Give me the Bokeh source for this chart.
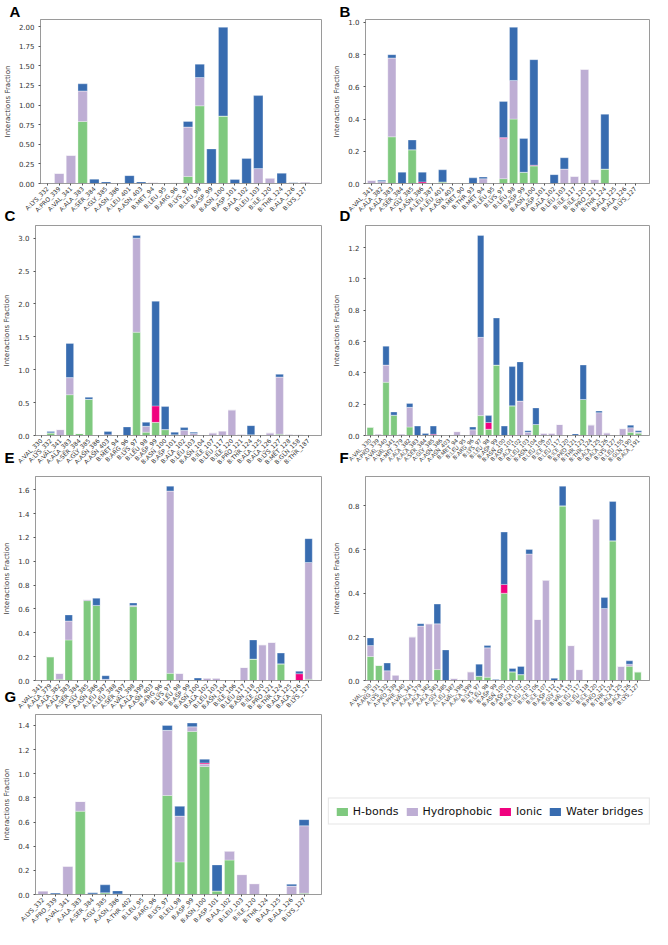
import numpy as np
from bokeh.plotting import figure
from bokeh.models import (ColumnDataSource, Range1d, FixedTicker, SingleIntervalTicker,
                          NumeralTickFormatter, Legend, LegendItem)
from bokeh.layouts import row, column
from bokeh.embed import file_html
from bokeh.resources import INLINE

SERIES = ["H-bonds", "Hydrophobic", "Ionic", "Water bridges"]
COLORS = ["#7fc97f", "#beaed4", "#f0027f", "#386cb0"]

# ---------------- Panel A ----------------
A_labels = ["A:LYS_332", "A:PRO_339", "A:VAL_341", "A:ALA_383", "A:SER_384", "A:GLY_385",
            "A:ASN_386", "A:LEU_401", "A:ASN_403", "B:MET_94", "B:LEU_95", "B:ARG_96",
            "B:LYS_97", "B:LEU_98", "B:ASP_99", "B:ASN_100", "B:ASP_101", "B:ALA_102",
            "B:LEU_103", "B:ILE_120", "B:THR_124", "B:ALA_126", "B:LYS_127"]
A_hbonds = [0, 0, 0, 0.79, 0, 0, 0, 0, 0, 0, 0, 0, 0.09, 0.99, 0, 0.86, 0, 0, 0, 0, 0, 0, 0]
A_hydrophobic = [0, 0.13, 0.36, 0.39, 0, 0, 0, 0, 0, 0.015, 0, 0.01, 0.63, 0.36, 0, 0, 0, 0, 0.19, 0.07, 0, 0, 0.02]
A_ionic = [0] * 23
A_water = [0, 0, 0, 0.09, 0.055, 0.02, 0, 0.10, 0.02, 0, 0, 0, 0.07, 0.17, 0.44, 1.13, 0.05, 0.32, 0.93, 0, 0.13, 0.01, 0]

# ---------------- Panel B ----------------
B_labels = ["A:VAL_341", "A:ALA_382", "A:ALA_383", "A:SER_384", "A:GLY_385", "A:ASN_386",
            "A:LEU_387", "A:LEU_401", "A:ASN_403", "B:MET_90", "B:THR_93", "B:MET_94",
            "B:LEU_95", "B:LYS_97", "B:LEU_98", "B:ASP_99", "B:ASN_100", "B:ASP_101",
            "B:ALA_102", "B:LEU_103", "B:ILE_117", "B:ILE_120", "B:PRO_121", "B:THR_124",
            "B:ALA_125", "B:ALA_126", "B:LYS_127"]
B_hbonds = [0, 0, 0.29, 0, 0.21, 0, 0, 0.01, 0, 0, 0, 0, 0, 0.03, 0.40, 0.07, 0.11, 0, 0, 0, 0, 0, 0, 0.09, 0, 0, 0]
B_hydrophobic = [0.02, 0.012, 0.49, 0, 0, 0, 0, 0, 0, 0, 0, 0.03, 0, 0.25, 0.24, 0, 0, 0, 0, 0.09, 0.045, 0.71, 0.025, 0, 0, 0, 0]
B_ionic = [0, 0, 0, 0, 0, 0.01, 0, 0, 0, 0, 0, 0, 0, 0.005, 0, 0, 0.004, 0, 0, 0, 0, 0, 0, 0, 0, 0, 0]
B_water = [0, 0.008, 0.02, 0.07, 0.06, 0.06, 0, 0.075, 0, 0, 0.035, 0.01, 0, 0.225, 0.33, 0.21, 0.655, 0.003, 0.055, 0.07, 0, 0, 0, 0.34, 0, 0.003, 0.003]

# ---------------- Panel C ----------------
C_labels = ["A:VAL_330", "A:LYS_332", "A:VAL_341", "A:ALA_383", "A:SER_384", "A:GLY_385",
            "A:ASN_386", "A:ASN_403", "B:MET_94", "B:ARG_96", "B:LYS_97", "B:LEU_98",
            "B:ASP_99", "B:ASN_100", "B:ASP_101", "B:ALA_102", "B:LEU_103", "B:ASN_104",
            "B:ILE_107", "B:LEU_117", "B:ILE_120", "B:PRO_121", "B:THR_124", "B:ALA_125",
            "B:ALA_126", "B:LYS_127", "B:MET_128", "B:GLN_158", "B:THR_187"]
C_hbonds = [0, 0.04, 0, 0.62, 0.03, 0.55, 0, 0, 0, 0, 1.57, 0.05, 0.20, 0.09, 0.01, 0, 0, 0, 0, 0, 0, 0, 0.01, 0, 0, 0.02, 0, 0, 0]
C_hydrophobic = [0, 0, 0.09, 0.26, 0, 0, 0, 0, 0, 0, 1.43, 0.09, 0, 0, 0, 0.08, 0.03, 0, 0.04, 0.07, 0.39, 0.02, 0, 0, 0.04, 0.87, 0.02, 0.01, 0]
C_ionic = [0, 0, 0, 0, 0, 0, 0, 0.01, 0, 0, 0, 0, 0.25, 0, 0, 0, 0, 0, 0, 0, 0, 0, 0, 0, 0, 0, 0, 0, 0]
C_water = [0, 0.02, 0, 0.52, 0, 0.03, 0, 0.05, 0, 0.13, 0.04, 0.06, 1.59, 0.35, 0.04, 0.04, 0.02, 0, 0, 0, 0, 0, 0.14, 0, 0, 0.04, 0, 0, 0]

# ---------------- Panel D ----------------
D_labels = ["A:VAL_330", "A:PRO_339", "A:VAL_340", "A:VAL_341", "A:MET_379", "A:ALA_382",
            "A:ALA_383", "A:SER_384", "A:GLY_385", "A:ASN_386", "A:ASN_403", "B:MET_94",
            "B:LEU_95", "B:ARG_96", "B:LYS_97", "B:LEU_98", "B:ASP_99", "B:ASN_100",
            "B:ASP_101", "B:ALA_102", "B:LEU_103", "B:ASN_104", "B:LEU_106", "B:ILE_107",
            "B:LEU_117", "B:ILE_120", "B:PRO_121", "B:THR_123", "B:THR_124", "B:ALA_125",
            "B:ALA_126", "B:LYS_127", "B:LEU_155", "B:GLN_190", "B:ALA_191"]
D_hbonds = [0.054, 0, 0.34, 0.13, 0, 0.054, 0, 0, 0, 0, 0, 0, 0, 0, 0.127, 0.04, 0.45, 0, 0.19, 0, 0, 0.07,
            0, 0, 0, 0, 0, 0.23, 0, 0, 0, 0, 0, 0.02, 0.015]
D_hydrophobic = [0, 0.01, 0.11, 0, 0.01, 0.126, 0, 0, 0, 0, 0, 0.025, 0, 0.037, 0.50, 0, 0, 0, 0, 0.22, 0.02, 0,
                 0.015, 0.015, 0.07, 0, 0, 0, 0.068, 0.146, 0.017, 0, 0.044, 0.03, 0.005]
D_ionic = [0, 0, 0, 0, 0, 0, 0, 0, 0.008, 0, 0, 0, 0, 0, 0, 0.043, 0, 0, 0, 0, 0, 0,
           0, 0, 0, 0, 0, 0, 0, 0, 0, 0, 0, 0, 0]
D_water = [0, 0, 0.12, 0.02, 0, 0.025, 0.06, 0.012, 0.052, 0, 0, 0, 0, 0.017, 0.65, 0.044, 0.30, 0.06, 0.25, 0.25, 0.01, 0.106,
           0, 0, 0, 0, 0.01, 0.22, 0, 0.01, 0, 0, 0, 0.016, 0.01]

# ---------------- Panel E ----------------
E_labels = ["A:VAL_341", "A:ALA_379", "A:ALA_382", "A:ALA_383", "A:SER_384", "A:GLY_385",
            "A:ASN_386", "A:LEU_387", "A:LEU_388", "A:SER_397", "A:VAL_398", "A:ALA_399",
            "A:ASN_403", "B:ARG_96", "B:LYS_97", "B:LEU_98", "B:ASP_99", "B:ASN_100",
            "B:ALA_102", "B:LEU_103", "B:ASN_104", "B:ILE_106", "B:LEU_117", "B:ASN_118",
            "B:ILE_120", "B:PRO_121", "B:THR_124", "B:ALA_125", "B:ALA_126", "B:LYS_127"]
E_hbonds = [0, 0.20, 0.01, 0.34, 0, 0.67, 0.63, 0, 0, 0, 0.62, 0, 0, 0, 0.06, 0, 0.005, 0, 0, 0, 0, 0,
            0, 0.18, 0, 0, 0.14, 0, 0, 0.01]
E_hydrophobic = [0, 0, 0.05, 0.16, 0, 0.01, 0, 0.01, 0, 0, 0.01, 0, 0, 0, 1.53, 0.06, 0, 0, 0.02, 0.02, 0, 0,
                 0.11, 0, 0.30, 0.32, 0, 0, 0, 0.98]
E_ionic = [0] * 28 + [0.057, 0]
E_water = [0, 0, 0, 0.05, 0, 0, 0.06, 0.03, 0.005, 0.005, 0.02, 0, 0, 0, 0.04, 0, 0, 0.02, 0, 0, 0, 0,
           0, 0.16, 0, 0, 0.09, 0, 0.02, 0.20]

# ---------------- Panel F ----------------
F_labels = ["A:VAL_330", "A:ARG_331", "A:LYS_332", "A:PRO_339", "A:PHE_340", "A:VAL_341",
            "A:ALA_379", "A:ALA_382", "A:ALA_383", "A:GLY_385", "A:LEU_387", "A:VAL_398",
            "A:ALA_399", "B:LYS_97", "B:LEU_98", "B:ASP_99", "B:ASN_100", "B:ASP_101",
            "B:ALA_102", "B:LEU_103", "B:ILE_106", "B:ILE_107", "B:ASP_112", "B:GLY_114",
            "B:VAL_115", "B:LEU_117", "B:LEU_118", "B:ILE_120", "B:PRO_121", "B:THR_124",
            "B:ALA_125", "B:ALA_126", "B:LYS_127"]
F_hbonds = [0.11, 0.07, 0, 0, 0, 0, 0, 0, 0.05, 0, 0, 0, 0, 0.02, 0.015, 0, 0.40, 0.04, 0.027, 0, 0, 0,
            0, 0.80, 0, 0, 0, 0, 0, 0.64, 0, 0.065, 0.04]
F_hydrophobic = [0.05, 0, 0.045, 0.025, 0.004, 0.20, 0.25, 0.26, 0.21, 0, 0.01, 0.005, 0.04, 0, 0.135, 0, 0, 0, 0, 0.58, 0.28, 0.46,
                 0, 0, 0.16, 0.05, 0, 0.74, 0.33, 0, 0.065, 0.01, 0]
F_ionic = [0] * 16 + [0.04] + [0] * 16
F_water = [0.035, 0, 0.035, 0, 0, 0, 0.01, 0, 0.09, 0.14, 0, 0, 0, 0.055, 0.01, 0.005, 0.24, 0.015, 0.037, 0.02, 0, 0,
           0.01, 0.09, 0, 0, 0, 0, 0.05, 0.18, 0, 0.015, 0]

# ---------------- Panel G ----------------
G_labels = ["A:LYS_332", "A:PRO_339", "A:VAL_341", "A:ALA_383", "A:SER_384", "A:GLY_385",
            "A:ASN_386", "A:THR_402", "B:LEU_95", "B:ARG_96", "B:LYS_97", "B:LEU_98",
            "B:ASP_99", "B:ASN_100", "B:ASP_101", "B:ALA_102", "B:LEU_103", "B:ILE_120",
            "B:THR_124", "B:ALA_125", "B:ALA_126", "B:LYS_127"]
G_hbonds = [0, 0, 0, 0.69, 0.005, 0.015, 0.005, 0, 0, 0, 0.82, 0.27, 1.35, 1.06, 0.03, 0.285, 0, 0, 0, 0, 0, 0.01]
G_hydrophobic = [0.03, 0.005, 0.235, 0.08, 0, 0, 0, 0, 0, 0, 0.54, 0.38, 0.04, 0.02, 0, 0.075, 0.165, 0.09, 0, 0, 0.07, 0.56]
G_ionic = [0] * 13 + [0.01] + [0] * 8
G_water = [0, 0.008, 0, 0, 0.01, 0.065, 0.025, 0, 0, 0, 0.04, 0.08, 0.03, 0.03, 0.215, 0, 0, 0, 0.005, 0, 0.015, 0.05]

FONT = "DejaVu Sans"
GREY = "#9a9a9a"


def panel(letter, labels, hb, hp, io, wb, step, fmt, width, height,
          bl, br, bt, bb, title_off, title_gap, lab_size):
    n = len(labels)
    xs = list(range(n))
    src = ColumnDataSource(dict(x=xs, hb=hb, hp=hp, io=io, wb=wb))
    totals = np.array(hb) + np.array(hp) + np.array(io) + np.array(wb)
    top = float(totals.max()) * 1.05
    p = figure(width=width, height=height, x_range=Range1d(-0.6, n + 0.4),
               y_range=Range1d(0, top), output_backend="svg", toolbar_location=None,
               min_border_left=bl, min_border_right=br, min_border_top=bt,
               min_border_bottom=bb)
    p.border_fill_color = None
    p.vbar_stack(["hb", "hp", "io", "wb"], x="x", width=0.8, source=src,
                 fill_color=COLORS, line_color="white", line_width=0.6, line_alpha=0.5)
    p.xgrid.visible = False
    p.ygrid.visible = False
    p.outline_line_color = GREY
    p.outline_line_width = 1
    xa = p.xaxis[0]
    xa.axis_label = None
    xa.ticker = FixedTicker(ticks=xs)
    xa.major_label_overrides = {i: lab for i, lab in enumerate(labels)}
    xa.major_label_orientation = np.pi / 4
    xa.major_label_text_font_size = lab_size
    xa.major_label_text_font = FONT
    xa.major_label_text_color = "#333333"
    xa.major_label_standoff = 2
    ya = p.yaxis[0]
    ya.ticker = SingleIntervalTicker(interval=step)
    ya.formatter = NumeralTickFormatter(format=fmt)
    ya.major_label_text_font_size = "7px"
    ya.major_label_text_font = FONT
    ya.major_label_text_color = "#333333"
    ya.major_label_standoff = 2
    ya.axis_label = "Interactions Fraction"
    ya.axis_label_text_font_size = "7px"
    ya.axis_label_text_font = FONT
    ya.axis_label_text_font_style = "normal"
    ya.axis_label_text_color = "#333333"
    ya.axis_label_standoff = 4
    for ax in (xa, ya):
        ax.axis_line_color = GREY
        ax.major_tick_line_color = "#555555"
        ax.major_tick_out = 2
        ax.major_tick_in = 0
        ax.minor_tick_line_color = None
    p.title.text = letter
    p.title.text_font = "Liberation Sans"
    p.title.text_font_size = "15px"
    p.title.text_font_style = "bold"
    p.title.text_color = "#000000"
    p.title.align = "left"
    p.title.offset = title_off
    p.title.standoff = title_gap
    return p


W = 326
BB = 46   # space kept below each frame for the slanted residue names
pA = panel("A", A_labels, A_hbonds, A_hydrophobic, A_ionic, A_water, 0.25, "0.00",
           W, 229, 32, 5, 14, BB, -31, 0, "6px")
pB = panel("B", B_labels, B_hbonds, B_hydrophobic, B_ionic, B_water, 0.2, "0.0",
           W, 229, 39, 3, 14, BB, -26, 0, "6px")
pC = panel("C", C_labels, C_hbonds, C_hydrophobic, C_ionic, C_water, 0.5, "0.0",
           W, 294, 32, 5, 38, BB, -31, 3, "6px")
pD = panel("D", D_labels, D_hbonds, D_hydrophobic, D_ionic, D_water, 0.2, "0.0",
           W, 294, 39, 3, 38, BB, -26, 3, "5.5px")
pE = panel("E", E_labels, E_hbonds, E_hydrophobic, E_ionic, E_water, 0.2, "0.0",
           W, 294, 32, 5, 44, BB, -31, 22, "6px")
pF = panel("F", F_labels, F_hbonds, F_hydrophobic, F_ionic, F_water, 0.2, "0.0",
           W, 294, 39, 3, 44, BB, -26, 22, "5.5px")
pG = panel("G", G_labels, G_hbonds, G_hydrophobic, G_ionic, G_water, 0.2, "0.0",
           W, 255, 32, 5, 40, 30, -31, 20, "6px")

# legend panel (proxy renderers placed outside the visible range)
pL = figure(width=W, height=241, output_backend="svg", toolbar_location=None,
            x_range=Range1d(0, 1), y_range=Range1d(0, 1), title=None,
            x_axis_location=None, y_axis_location=None, min_border=0,
            margin=(14, 0, 0, 0))
pL.border_fill_color = None
pL.background_fill_color = None
pL.xgrid.visible = False
pL.ygrid.visible = False
pL.outline_line_color = None
proxy = ColumnDataSource(dict(x=[-5.0], top=[0.0]))
rends = [pL.vbar(x="x", top="top", width=0.8, source=proxy, fill_color=c, line_color=None)
         for c in COLORS]
legend = Legend(items=[LegendItem(label=s, renderers=[r]) for s, r in zip(SERIES, rends)],
                orientation="horizontal", location="center",
                label_text_font=FONT, label_text_font_size="11px", label_text_color="#111111",
                glyph_width=14, glyph_height=10, label_height=12, label_width=10,
                label_standoff=4, spacing=6,
                padding=6, margin=0, border_line_color="#cccccc", border_line_width=1,
                background_fill_color="white", background_fill_alpha=1.0)
pL.add_layout(legend)

layout = column(row(pA, pB),
                row(pC, pD, margin=(-42, 0, 0, 0)),
                row(pE, pF, margin=(-49, 0, 0, 0)),
                row(pG, pL, margin=(-52, 0, 0, 0)))
open("out.html", "w").write(file_html(layout, INLINE))
